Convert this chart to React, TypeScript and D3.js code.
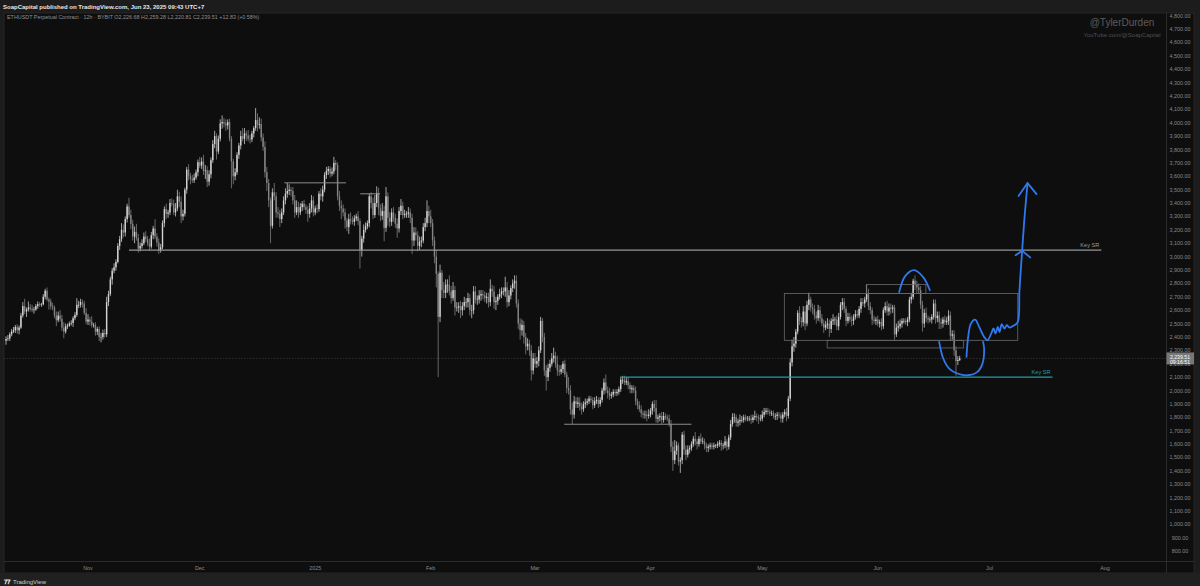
import * as d3 from "d3";

// [close, wick above body, wick below body] for each 12h candle, open = previous close
type Bar = [number, number, number];

const firstOpen = 2372;
const startTime = "2024-10-10T00:00:00Z";

const oct24: Bar[] = [
  [2385,20,30],[2390,25,15],[2420,15,20],[2440,20,15],[2450,25,10],[2475,15,20],[2450,20,25],[2470,15,30],
  [2560,20,10],[2630,30,15],[2590,55,20],[2605,15,40],[2620,45,15],[2610,25,20],[2600,30,15],[2605,20,25],
  [2630,15,10],[2645,20,20],[2640,15,15],[2645,10,15],[2700,20,10],[2745,15,20],[2680,25,15],[2665,15,60],
  [2630,20,25],[2620,25,20],[2560,15,20],[2525,30,45],[2560,30,15],[2535,40,20],[2470,30,25],[2440,40,50],
  [2480,20,15],[2485,15,20],[2500,15,10],[2505,20,15],[2540,15,30],[2565,20,15],[2640,50,15],[2640,30,25],
  [2660,25,20],[2650,20,30],[2580,20,15],[2515,35,20],
];
const nov24: Bar[] = [
  [2530,40,25],[2515,20,30],[2490,40,20],[2490,15,20],[2440,20,30],[2460,15,25],[2400,20,30],[2400,30,40],
  [2430,25,20],[2420,30,25],[2660,40,20],[2720,25,30],[2830,20,15],[2895,20,40],[2920,30,20],[2960,20,25],
  [3080,20,10],[3130,25,30],[3200,50,20],[3180,40,35],[3280,20,30],[3375,20,25],[3310,65,20],[3245,40,40],
  [3150,30,30],[3185,40,50],[3140,60,20],[3060,30,30],[3080,25,20],[3100,30,20],[3150,30,15],[3130,40,20],
  [3100,25,20],[3075,35,30],[3160,25,15],[3210,20,30],[3150,70,20],[3105,25,30],[3050,30,30],[3070,25,20],
  [3250,20,15],[3355,20,30],[3320,40,40],[3330,20,30],[3400,30,20],[3395,35,20],[3330,30,20],[3360,40,30],
  [3450,50,20],[3410,35,40],[3300,40,50],[3320,30,30],[3500,15,20],[3650,20,30],[3600,40,30],[3580,25,40],
  [3570,30,20],[3590,30,20],[3630,20,15],[3705,20,30],
];
const dec24: Bar[] = [
  [3680,40,20],[3710,30,25],[3640,50,30],[3645,40,60],[3560,30,40],[3615,30,30],[3720,20,30],[3840,30,20],
  [3900,40,30],[3785,20,60],[3880,25,20],[3995,30,20],[4005,50,40],[3995,30,30],[3980,30,40],[4005,20,30],
  [3880,25,20],[3710,20,200],[3600,20,60],[3630,30,30],[3760,20,20],[3830,20,30],[3900,40,30],[3880,60,20],
  [3920,40,40],[3905,20,40],[3880,40,20],[3875,30,30],[3920,20,20],[3960,15,30],[4020,90,20],[3985,50,50],
  [3990,50,30],[3890,40,30],[3820,30,30],[3630,40,40],[3550,40,60],[3420,30,50],[3230,20,130],[3480,30,20],
  [3450,70,30],[3330,30,40],[3320,40,30],[3280,30,60],[3330,30,30],[3420,30,20],[3470,40,30],[3490,60,30],
  [3500,40,30],[3490,20,40],[3420,30,30],[3330,40,40],[3370,50,20],[3330,40,40],[3370,30,20],[3395,20,30],
  [3370,30,20],[3350,20,30],[3320,30,60],[3360,40,30],[3420,40,30],[3330,30,30],
];
const jan25: Bar[] = [
  [3360,20,20],[3355,30,30],[3470,20,20],[3450,40,30],[3500,30,40],[3610,20,20],[3640,30,30],[3655,20,30],
  [3620,20,30],[3635,30,20],[3700,45,20],[3685,20,40],[3450,20,30],[3380,40,40],[3360,40,80],[3330,30,30],
  [3270,30,60],[3220,20,30],[3280,40,50],[3270,50,30],[3260,30,20],[3285,25,30],[3300,20,20],[3265,40,30],
  [3050,20,140],[3135,20,50],[3200,40,30],[3225,30,20],[3250,20,20],[3450,20,30],[3400,30,40],[3310,40,30],
  [3400,60,20],[3475,50,30],[3360,40,50],[3305,30,40],[3340,60,30],[3215,40,100],[3450,70,30],[3290,30,60],
  [3260,40,40],[3330,30,30],[3290,40,30],[3245,30,30],[3210,40,70],[3340,30,30],[3380,50,30],[3310,30,30],
  [3320,30,20],[3320,20,30],[3330,40,30],[3290,30,40],[3120,30,100],[3180,40,40],[3160,40,40],[3080,30,40],
  [3110,40,30],[3120,30,40],[3220,30,20],[3250,40,30],[3340,80,30],[3300,40,50],
];
const feb25: Bar[] = [
  [3250,50,30],[3120,30,40],[3000,30,50],[2870,50,100],[2550,20,450],[2880,60,40],[2750,20,60],[2730,60,40],
  [2790,40,40],[2790,40,60],[2740,70,30],[2690,40,40],[2750,60,20],[2620,30,60],[2620,40,30],[2630,30,40],
  [2600,40,60],[2630,30,40],[2660,40,30],[2660,30,40],[2690,40,40],[2600,30,40],[2600,40,60],[2740,40,30],
  [2680,40,30],[2680,30,40],[2710,40,30],[2720,30,40],[2710,30,30],[2690,30,30],[2700,30,40],[2660,30,40],
  [2760,70,30],[2740,30,40],[2660,40,50],[2670,30,60],[2700,20,30],[2720,40,20],[2740,30,30],[2740,30,30],
  [2770,80,40],[2660,40,40],[2710,40,30],[2765,20,30],[2800,30,30],[2820,40,40],[2650,40,30],[2500,30,40],
  [2450,40,70],[2490,40,40],[2400,30,50],[2330,30,60],[2350,40,30],[2300,30,40],[2150,40,75],[2240,40,30],
];
const mar25: Bar[] = [
  [2200,40,30],[2220,30,30],[2300,30,40],[2520,30,20],[2400,20,40],[2150,30,40],[2100,40,100],[2170,30,30],
  [2200,30,30],[2240,40,20],[2260,60,30],[2200,30,30],[2150,60,40],[2140,40,30],[2160,30,20],[2200,20,30],
  [2120,30,20],[2020,20,40],[2000,80,30],[1860,40,40],[1820,50,70],[1920,40,30],[1900,30,30],[1910,40,30],
  [1880,40,30],[1860,30,40],[1900,20,20],[1910,30,30],[1920,20,20],[1940,20,20],[1930,20,20],[1890,20,30],
  [1920,30,20],[1930,30,20],[1900,20,30],[1930,20,20],[2000,20,20],[2060,30,30],[2000,60,20],[1980,30,40],
  [1960,40,30],[1970,20,20],[1990,20,20],[1980,20,20],[1990,20,20],[2010,20,20],[2080,20,20],[2080,30,30],
  [2060,30,20],[2070,30,20],[2040,30,30],[2010,20,30],[2020,20,30],[2000,20,20],[1920,30,30],[1890,20,30],
  [1860,30,20],[1830,30,30],[1820,20,30],[1820,30,30],[1810,30,40],[1820,40,20],
];
const apr25: Bar[] = [
  [1850,20,20],[1900,20,30],[1870,30,30],[1790,60,30],[1800,20,30],[1810,20,30],[1780,30,30],[1810,30,20],
  [1800,20,20],[1790,20,20],[1750,30,20],[1580,30,40],[1480,40,80],[1550,80,30],[1590,30,30],[1470,20,30],
  [1480,20,85],[1670,20,30],[1560,30,40],[1520,30,40],[1560,30,20],[1570,20,30],[1600,20,20],[1640,20,20],
  [1620,50,30],[1600,20,40],[1640,20,20],[1620,40,20],[1620,30,20],[1590,20,30],[1570,20,30],[1580,20,30],
  [1590,20,20],[1580,20,20],[1590,20,20],[1590,10,20],[1600,20,20],[1610,20,20],[1590,20,40],[1590,20,30],
  [1620,40,20],[1580,20,30],[1650,20,20],[1750,30,20],[1800,30,20],[1800,30,40],[1760,20,30],[1770,20,30],
  [1780,40,30],[1780,30,20],[1800,20,20],[1790,20,20],[1790,20,20],[1790,20,20],[1780,30,30],[1800,20,20],
  [1810,40,20],[1800,20,30],[1790,20,40],[1790,30,20],
];
const may25: Bar[] = [
  [1820,30,20],[1840,30,20],[1850,20,20],[1840,20,20],[1830,20,20],[1830,20,20],[1810,20,20],[1810,20,30],
  [1820,20,30],[1815,20,20],[1790,20,30],[1820,20,30],[1840,20,20],[1810,30,40],[1940,20,20],[2210,30,20],
  [2330,50,30],[2350,50,40],[2440,20,30],[2580,20,20],[2520,50,30],[2510,30,40],[2590,40,30],[2500,40,50],
  [2640,30,20],[2680,50,40],[2620,20,30],[2610,30,40],[2560,30,30],[2540,30,40],[2600,40,20],[2540,30,30],
  [2500,30,20],[2470,30,40],[2490,30,20],[2500,40,30],[2460,30,60],[2520,20,30],[2530,40,30],[2530,20,40],
  [2480,30,30],[2550,30,30],[2640,20,20],[2660,30,40],[2610,30,30],[2520,20,40],[2550,30,20],[2530,30,20],
  [2520,30,40],[2550,20,30],[2570,30,20],[2560,30,20],[2610,20,20],[2660,30,30],[2650,30,20],[2680,20,30],
  [2720,70,20],[2630,40,30],[2600,30,30],[2530,20,40],[2520,30,20],[2530,20,30],
];
const jun25: Bar[] = [
  [2500,30,20],[2510,20,30],[2480,30,30],[2600,20,20],[2630,30,20],[2590,40,30],[2620,30,30],[2610,30,40],
  [2620,20,30],[2420,20,40],[2470,30,20],[2480,40,30],[2500,30,20],[2520,20,30],[2520,20,20],[2510,20,20],
  [2530,20,30],[2680,20,20],[2700,30,30],[2820,15,20],[2790,40,40],[2770,30,40],[2750,30,30],[2640,30,30],
  [2500,30,60],[2580,30,30],[2540,40,30],[2530,20,30],[2530,20,20],[2550,20,30],[2650,30,20],[2540,30,40],
  [2560,30,30],[2510,30,50],[2500,30,40],[2530,20,30],[2510,30,20],[2520,30,20],[2560,40,30],[2410,30,40],
  [2420,30,30],[2300,30,40],[2220,30,110],[2226.68,30,30],[2239.51,19.77,5.87],
];

const monthStarts = ["2024-11-01","2024-12-01","2025-01-01","2025-02-01","2025-03-01","2025-04-01","2025-05-01","2025-06-01","2025-07-01","2025-08-01"];
const monthLabels = ["Nov","Dec","2025","Feb","Mar","Apr","May","Jun","Jul","Aug"];
const priceTicks = d3.range(800, 4801, 100);

// drawn levels: [from, to, price]
const greyLevels: [string, string, number][] = [
  ["2024-12-23T17:00Z","2025-01-09T07:00Z",3551],
  ["2025-01-13T02:00Z","2025-01-18T10:00Z",3469],
  ["2025-03-08T20:00Z","2025-04-12T00:00Z",1748],
];
const keySrGrey: [string, string, number] = ["2024-11-12T00:00Z","2025-07-31T00:00Z",3048];
const keySrCyan: [string, string, number] = ["2025-03-23T20:00Z","2025-07-17T22:00Z",2100];
// rectangles: [from, to, top, bottom]
const boxes: [string, string, number, number][] = [
  ["2025-05-06T22:00Z","2025-07-08T14:00Z",2725,2375],
  ["2025-05-28T22:00Z","2025-06-13T22:00Z",2792,2725],
  ["2025-05-18T10:00Z","2025-06-24T00:00Z",2375,2318],
];
// hand-drawn blue strokes: [time, price]
const archPts: [string, number][] = [
  ["2025-06-06T18:00Z",2736],["2025-06-08T08:30Z",2854],["2025-06-10T18:30Z",2899],["2025-06-13T04:30Z",2847],["2025-06-14T23:45Z",2749],
];
const cupPts: [string, number][] = [
  ["2025-06-17T11:30Z",2363],["2025-06-18T13:30Z",2241],["2025-06-20T04:00Z",2164],["2025-06-22T09:30Z",2127],
  ["2025-06-25T02:00Z",2114],["2025-06-27T18:30Z",2139],["2025-06-29T02:30Z",2201],["2025-06-29T13:30Z",2301],["2025-06-29T07:00Z",2363],
];
const pathPts: [string, number][] = [
  ["2025-06-24T19:30Z",2251],["2025-06-25T06:30Z",2400],["2025-06-26T00:00Z",2500],["2025-06-27T03:30Z",2530],
  ["2025-06-28T05:30Z",2475],["2025-06-29T13:30Z",2400],["2025-06-30T11:00Z",2375],["2025-07-01T11:00Z",2426],
  ["2025-07-02T01:45Z",2463],["2025-07-02T14:45Z",2426],["2025-07-03T05:30Z",2475],["2025-07-03T16:30Z",2437],
  ["2025-07-04T07:00Z",2495],["2025-07-05T00:45Z",2463],["2025-07-05T15:30Z",2488],["2025-07-06T09:00Z",2470],
  ["2025-07-07T17:00Z",2488],["2025-07-08T14:30Z",2512],["2025-07-09T01:00Z",2749],["2025-07-09T18:00Z",3043],
  ["2025-07-10T10:00Z",3300],["2025-07-11T05:00Z",3549],
];
const arrowTop: [string, number][] = [["2025-07-08T19:00Z",3452],["2025-07-11T05:00Z",3549],["2025-07-13T15:00Z",3467]];
const arrowMid: [string, number][] = [["2025-07-08T00:00Z",3011],["2025-07-09T18:45Z",3043],["2025-07-11T22:00Z",2994]];

const FONT = "'Liberation Sans', Arial, sans-serif";

export default function App() {
  const W = 1200, H = 586;
  const pane = { left: 4, top: 13, right: 1166, bottom: 561 };
  const x = d3.scaleUtc().domain([new Date("2024-11-01T00:00Z"), new Date("2025-08-01T00:00Z")]).range([88, 1105]);
  const y = d3.scaleLinear().domain([800, 4800]).range([551.2, 15.6]);
  const fmt = d3.format(",.2f");

  const all = [...oct24, ...nov24, ...dec24, ...jan25, ...feb25, ...mar25, ...apr25, ...may25, ...jun25];
  const t0 = new Date(startTime).getTime();
  let prev = firstOpen;
  const candles = all.map(([c, up, dn], i) => {
    const o = prev;
    prev = c;
    return { t: new Date(t0 + i * 12 * 3600 * 1000), o, c, h: Math.max(o, c) + up, l: Math.min(o, c) - dn };
  });
  const last = candles[candles.length - 1];

  const pt = (d: [string, number]) => [x(new Date(d[0])), y(d[1])] as [number, number];
  const smooth = d3.line().curve(d3.curveCatmullRom.alpha(0.5));
  const straight = d3.line();

  const blue = "#2f78ee";
  const cyan = "#1e9ea6";

  return (
    <svg width={W} height={H} style={{ position: "fixed", left: 0, top: 0 }} fontFamily={FONT}>
      <rect width={W} height={H} fill="#1c1c1c" />
      <text x={3} y={8.6} fontSize={6} fontWeight="bold" fill="#e6e6e6">SoapCapital published on TradingView.com, Jun 23, 2025 09:43 UTC+7</text>
      <rect x={pane.left} y={pane.top} width={1194 - pane.left} height={573 - pane.top} fill="#0e0e0e" stroke="#2b2b2b" strokeWidth={0.8} />
      <line x1={pane.right + 0.5} x2={pane.right + 0.5} y1={pane.top} y2={573} stroke="#2b2b2b" />
      <line x1={pane.left} x2={1194} y1={pane.bottom + 0.5} y2={pane.bottom + 0.5} stroke="#2b2b2b" />

      <defs>
        <clipPath id="pane">
          <rect x={pane.left} y={pane.top} width={pane.right - pane.left} height={pane.bottom - pane.top} />
        </clipPath>
      </defs>

      <g clipPath="url(#pane)">
        {/* last price line */}
        <line x1={pane.left} x2={pane.right} y1={y(last.c)} y2={y(last.c)} stroke="#3c3c3c" strokeWidth={0.7} strokeDasharray="1.5 1.5" />

        {candles.map((d, i) => {
          const up = d.c >= d.o;
          const col = up ? "#d4d4d4" : "#858585";
          const cx = x(d.t);
          const top = y(Math.max(d.o, d.c));
          const bot = y(Math.min(d.o, d.c));
          return (
            <g key={i}>
              <line x1={cx} x2={cx} y1={y(d.h)} y2={y(d.l)} stroke={col} strokeWidth={0.75} />
              <rect x={cx - 0.7} y={top} width={1.4} height={Math.max(0.6, bot - top)} fill={col} />
            </g>
          );
        })}

        <line x1={x(new Date(keySrGrey[0]))} x2={x(new Date(keySrGrey[1]))} y1={y(keySrGrey[2])} y2={y(keySrGrey[2])} stroke="#969696" strokeWidth={1.3} />
        <text x={x(new Date(keySrGrey[1])) - 2} y={y(keySrGrey[2]) - 3} fontSize={5.6} fill="#9a9a9a" textAnchor="end">Key SR</text>
        {greyLevels.map((l, i) => (
          <line key={i} x1={x(new Date(l[0]))} x2={x(new Date(l[1]))} y1={y(l[2])} y2={y(l[2])} stroke="#8c8c8c" strokeWidth={1} />
        ))}
        {boxes.map((b, i) => (
          <rect key={i} x={x(new Date(b[0]))} y={y(b[2])} width={x(new Date(b[1])) - x(new Date(b[0]))} height={y(b[3]) - y(b[2])}
            fill="none" stroke="#6a6a6a" strokeWidth={0.8} />
        ))}
        <line x1={x(new Date(keySrCyan[0]))} x2={x(new Date(keySrCyan[1]))} y1={y(keySrCyan[2])} y2={y(keySrCyan[2])} stroke={cyan} strokeWidth={1.4} />
        <text x={x(new Date(keySrCyan[1])) - 2} y={y(keySrCyan[2]) - 3} fontSize={5.6} fill={cyan} textAnchor="end">Key SR</text>

        <g fill="none" stroke={blue} strokeWidth={1.8} strokeLinecap="round" strokeLinejoin="round">
          <path d={smooth(archPts.map(pt)) ?? ""} />
          <path d={smooth(cupPts.map(pt)) ?? ""} />
          <path d={smooth(pathPts.map(pt)) ?? ""} />
          <path d={straight(arrowTop.map(pt)) ?? ""} />
          <path d={straight(arrowMid.map(pt)) ?? ""} />
        </g>

        <text x={pane.left + 3} y={19} fontSize={5.4} fill="#8f8f8f">
          ETHUSDT Perpetual Contract · 12h · BYBIT  O2,226.68  H2,259.28  L2,220.81  C2,239.51  +12.83 (+0.58%)
        </text>
        <text x={1122} y={25.5} fontSize={10} fill="#5c5c5c" textAnchor="middle">@TylerDurden</text>
        <text x={1122} y={37} fontSize={6} fill="#505050" textAnchor="middle">YouTube.com/@SoapCapital</text>
      </g>

      {/* price axis */}
      {priceTicks.map((p) => (
        <text key={p} x={1180} y={y(p) + 2} fontSize={5.4} fill="#8a8a8a" textAnchor="middle">{fmt(p)}</text>
      ))}
      <rect x={pane.right + 0.5} y={y(last.c) - 6} width={27.5} height={12} fill="#777777" />
      <text x={1180} y={y(last.c) + 0.3} fontSize={5.2} fill="#ffffff" textAnchor="middle">{fmt(last.c)}</text>
      <text x={1180} y={y(last.c) + 5.6} fontSize={5.2} fill="#ffffff" textAnchor="middle">09:16:51</text>

      {/* time axis */}
      {monthStarts.map((m, i) => (
        <text key={m} x={x(new Date(m + "T00:00Z"))} y={569.5} fontSize={5.4} fill="#8a8a8a" textAnchor="middle">{monthLabels[i]}</text>
      ))}

      <rect x={0} y={573} width={W} height={H - 573} fill="#202020" />
      <text x={4} y={583.5} fontSize={6.2} fontWeight="bold" fill="#dddddd">𝟕𝟕</text>
      <text x={13} y={583.5} fontSize={6} fill="#cfcfcf">TradingView</text>
    </svg>
  );
}
